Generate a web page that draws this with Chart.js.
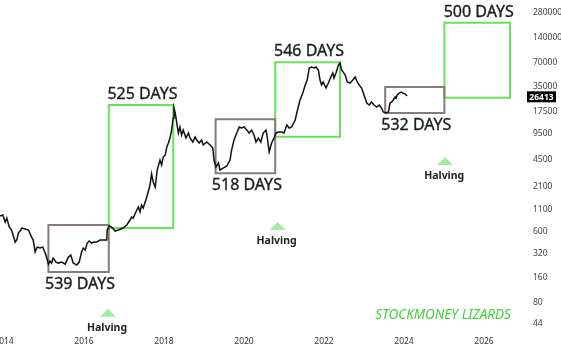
<!DOCTYPE html>
<html><head><meta charset="utf-8">
<script src="https://cdn.jsdelivr.net/npm/chart.js@4.4.0/dist/chart.umd.min.js"></script>
<style>html,body{margin:0;padding:0;background:#fff;overflow:hidden}canvas{display:block}</style>
</head><body>
<canvas id="c" width="561" height="351"></canvas>
<script>
// ---- data ----
const dates = [
2013.90,2013.97,2014.03,2014.07,2014.13,2014.19,2014.28,2014.32,2014.36,2014.42,2014.44,2014.53,2014.61,2014.69,2014.73,2014.78,2014.83,2014.90,2014.97,
2015.03,2015.07,2015.11,2015.15,2015.19,2015.23,2015.30,2015.36,2015.44,2015.53,2015.61,2015.67,2015.73,2015.82,2015.88,2015.94,2015.98,
2016.03,2016.08,2016.13,2016.19,2016.25,2016.32,2016.40,2016.48,2016.57,2016.58,2016.63,2016.69,2016.78,2016.86,2016.98,
2017.07,2017.15,2017.19,2017.23,2017.32,2017.36,2017.40,2017.44,2017.48,2017.57,2017.65,2017.69,2017.73,2017.78,2017.83,2017.90,2017.94,2017.98,
2018.03,2018.07,2018.11,2018.15,2018.19,2018.23,2018.25,2018.28,2018.32,2018.36,2018.40,2018.44,2018.48,2018.55,2018.61,2018.65,2018.72,2018.78,2018.82,2018.88,2018.94,2018.98,
2019.07,2019.15,2019.22,2019.25,2019.30,2019.36,2019.40,2019.48,2019.57,2019.65,2019.69,2019.75,2019.82,2019.88,2019.94,
2020.00,2020.07,2020.13,2020.19,2020.25,2020.30,2020.36,2020.42,2020.48,2020.55,2020.58,2020.63,2020.69,2020.75,2020.80,2020.86,2020.94,
2021.00,2021.07,2021.13,2021.19,2021.28,2021.32,2021.40,2021.47,2021.53,2021.58,2021.63,2021.69,2021.75,2021.80,2021.86,2021.90,2021.94,2021.98,
2022.05,2022.11,2022.17,2022.22,2022.25,2022.30,2022.36,2022.40,2022.44,2022.53,2022.58,2022.65,2022.72,2022.78,2022.83,2022.88,2022.94,
2023.00,2023.07,2023.13,2023.19,2023.25,2023.32,2023.38,2023.44,2023.48,2023.55,2023.61,2023.65,2023.69,2023.73,2023.78,2023.80,2023.83,2023.88,2023.93,2023.97,
2024.03,2024.08
];
const prices = [
920,945,775,868,674,619,441,467,569,619,655,637,619,508,467,333,383,373,383,
324,281,237,258,244,281,251,244,251,237,289,306,244,231,251,333,373,
352,429,454,429,441,441,467,467,467,619,693,674,602,619,655,
713,821,893,868,1088,1184,1028,1252,1151,1569,2200,2999,2394,2079,3357,4449,3865,4842,
5123,6418,7184,8270,10360,14530,19260,16730,12620,9520,11280,9000,10360,8270,9520,8270,7389,8507,7817,7184,7817,6790,
7389,6790,6240,4449,3653,4089,3357,3552,3758,4449,5898,7817,9520,11280,10960,
11280,10360,9520,10360,9000,7389,8270,7389,9520,10360,8507,5575,7184,8270,9520,9790,9790,
9520,11930,10960,11280,13730,16730,24130,29390,36820,42390,59440,61140,59440,61140,56190,42390,36820,40070,
33840,38960,46140,51640,44850,51640,64690,68440,56190,48800,40070,38960,42390,46140,40070,36820,33840,
27780,22170,20960,22810,20960,19810,20960,19260,17210,16730,17210,22170,22810,24130,26260,25530,27780,29390,30230,29390,
28570,27010
];
const lastPrice = 26413;

const xTickYears = [2014, 2016, 2018, 2020, 2022, 2024, 2026];
const yTickValues = [44, 80, 160, 320, 600, 1100, 2100, 4500, 9500, 17500, 35000, 70000, 140000, 280000];

// cycle boxes: 'range' = accumulation (gray, label below), 'run' = expansion (green, label above)
const boxLabels = ['539 DAYS', '525 DAYS', '518 DAYS', '546 DAYS', '532 DAYS', '500 DAYS'];
const boxKind   = ['range', 'run', 'range', 'run', 'range', 'run'];
const boxStart  = [2015.11, 2016.62, 2019.29, 2020.78, 2023.53, 2025.01];
const boxEnd    = [2016.62, 2018.23, 2020.78, 2022.40, 2025.01, 2026.65];
const boxLow    = [190, 655, 3060, 8580, 16730, 25750];
const boxHigh   = [713, 20960, 14000, 69800, 34800, 213000];

const halvingYears  = [2016.60, 2020.84, 2025.03];
const halvingPrices = [60, 693, 4326];
const halvingText = 'Halving';
const watermark = 'STOCKMONEY LIZARDS';

// ---- chart ----
const GREEN = '#6ae15a';
const GRAY = '#877b7b';

const datasets = [{
  data: dates.map((d, i) => ({x: d, y: prices[i]})),
  borderColor: '#111', borderWidth: 1.5, pointRadius: 0, tension: 0, fill: false
}];
boxLabels.forEach((_, i) => {
  datasets.push({
    data: [
      {x: boxStart[i], y: boxLow[i]}, {x: boxEnd[i], y: boxLow[i]},
      {x: boxEnd[i], y: boxHigh[i]}, {x: boxStart[i], y: boxHigh[i]},
      {x: boxStart[i], y: boxLow[i]}
    ],
    borderColor: boxKind[i] === 'run' ? GREEN : GRAY,
    borderWidth: 2, pointRadius: 0, fill: false, tension: 0,
    borderJoinStyle: 'miter', borderCapStyle: 'square'
  });
});

const overlay = {
  id: 'overlay',
  afterDatasetsDraw(chart) {
    const {ctx, scales: {x, y}, chartArea} = chart;
    ctx.save();
    // box labels
    ctx.font = '16px "Noto Sans"';
    ctx.fillStyle = '#1d1d1d';
    ctx.strokeStyle = '#1d1d1d';
    ctx.lineWidth = 0.35;
    ctx.textAlign = 'center';
    ctx.textBaseline = 'middle';
    boxLabels.forEach((t, i) => {
      const cx = (x.getPixelForValue(boxStart[i]) + x.getPixelForValue(boxEnd[i])) / 2 + 1.5;
      const cy = boxKind[i] === 'range'
        ? y.getPixelForValue(boxLow[i]) + 12.5
        : y.getPixelForValue(boxHigh[i]) - 10.5;
      ctx.fillText(t, cx, cy);
      ctx.strokeText(t, cx, cy);
    });
    // halving markers
    halvingYears.forEach((yr, i) => {
      const px = x.getPixelForValue(yr), py = y.getPixelForValue(halvingPrices[i]);
      ctx.beginPath();
      ctx.moveTo(px, py - 4);
      ctx.lineTo(px + 8, py + 4);
      ctx.lineTo(px - 8, py + 4);
      ctx.closePath();
      ctx.fillStyle = 'rgba(120,228,120,0.7)';
      ctx.fill();
      ctx.fillStyle = '#222';
      ctx.font = 'bold 10.5px "Noto Sans"';
      ctx.fillText(halvingText, px - 1, py + 15);
    });
    // watermark
    ctx.font = 'italic 13.5px "Noto Sans"';
    ctx.fillStyle = '#3fd23a';
    ctx.fillText(watermark, chartArea.left + 443, chartArea.top + 315);
    ctx.restore();
  },
  afterDraw(chart) {
    const {ctx, scales: {y}, chartArea} = chart;
    const py = y.getPixelForValue(lastPrice);
    ctx.save();
    ctx.fillStyle = '#000';
    ctx.fillRect(chartArea.right - 1, py - 5.5, 29, 11);
    ctx.fillStyle = '#fff';
    ctx.font = 'bold 8.5px "Noto Sans"';
    ctx.textAlign = 'center';
    ctx.textBaseline = 'middle';
    ctx.fillText(String(lastPrice), chartArea.right + 13.5, py + 0.5);
    ctx.restore();
  }
};

new Chart(document.getElementById('c'), {
  type: 'line',
  data: {datasets},
  options: {
    responsive: false, animation: false, devicePixelRatio: 1,
    layout: {padding: 0},
    plugins: {legend: {display: false}, tooltip: {enabled: false}},
    scales: {
      x: {
        type: 'linear', min: 2013.9, max: 2027.1,
        grid: {display: false, drawTicks: false}, border: {display: false},
        ticks: {padding: 4, color: '#333', font: {family: 'Noto Sans', size: 8.5}, autoSkip: false, maxRotation: 0,
                callback: v => String(v)},
        afterBuildTicks: s => { s.ticks = xTickYears.map(v => ({value: v})); },
        afterFit: s => { s.height = 19; s.paddingLeft = 0; s.paddingRight = 0; }
      },
      y: {
        type: 'logarithmic', position: 'right', min: 35, max: 404000,
        grid: {display: false, drawTicks: false}, border: {display: false},
        ticks: {padding: 5, color: '#444', font: {family: 'Noto Sans', size: 8.5}, autoSkip: false,
                callback: v => String(v)},
        afterBuildTicks: s => { s.ticks = yTickValues.map(v => ({value: v})); },
        afterFit: s => { s.width = 33; s.paddingTop = 0; s.paddingBottom = 0; }
      }
    }
  },
  plugins: [overlay]
});
</script>
</body></html>
